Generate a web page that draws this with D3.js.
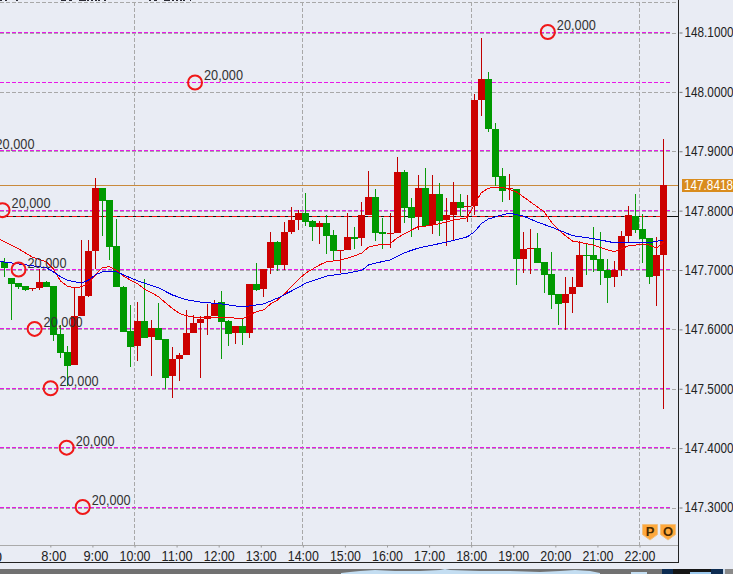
<!DOCTYPE html>
<html>
<head>
<meta charset="utf-8">
<style>
  body { margin: 0; background: #e9ecf4; overflow: hidden; }
  text { font-family: "Liberation Sans", Arial, sans-serif; }
</style>
<script src="https://d3js.org/d3.v7.min.js"></script>
</head>
<body>
<svg id="chart" width="733" height="574"></svg>
<script>
// 10 minute bars, first bar opens 6:50
const barOpen = [147.713,147.686,147.677,147.672,147.667,147.669,147.679,147.672,147.592,147.561,147.539,147.622,147.656,147.731,147.837,147.817,147.740,147.670,147.596,147.572,147.613,147.587,147.602,147.583,147.520,147.549,147.556,147.593,147.610,147.616,147.622,147.645,147.613,147.593,147.605,147.593,147.676,147.667,147.702,147.746,147.708,147.763,147.783,147.795,147.782,147.772,147.778,147.758,147.731,147.733,147.755,147.753,147.792,147.822,147.763,147.760,147.762,147.864,147.805,147.789,147.837,147.775,147.827,147.783,147.792,147.814,147.805,147.807,147.986,148.021,147.937,147.858,147.836,147.836,147.718,147.735,147.736,147.713,147.693,147.659,147.644,147.659,147.671,147.724,147.724,147.718,147.699,147.688,147.699,147.757,147.790,147.768,147.753,147.689,147.724];
const barHigh = [147.720,147.686,147.677,147.672,147.669,147.701,147.681,147.672,147.607,147.571,147.670,147.749,147.750,147.854,147.837,147.817,147.785,147.672,147.640,147.645,147.684,147.615,147.643,147.583,147.569,147.560,147.631,147.623,147.621,147.642,147.648,147.663,147.615,147.605,147.616,147.676,147.711,147.701,147.764,147.748,147.780,147.805,147.800,147.829,147.783,147.782,147.792,147.767,147.733,147.795,147.772,147.814,147.866,147.836,147.787,147.795,147.890,147.868,147.821,147.859,147.871,147.859,147.846,147.821,147.847,147.827,147.826,147.996,148.090,148.033,147.947,147.871,147.861,147.836,147.764,147.768,147.762,147.713,147.730,147.659,147.688,147.688,147.748,147.743,147.772,147.763,147.718,147.714,147.765,147.807,147.827,147.793,147.753,147.755,147.920];
const barLow = [147.688,147.615,147.667,147.663,147.663,147.666,147.670,147.580,147.551,147.503,147.539,147.622,147.654,147.701,147.757,147.716,147.670,147.594,147.536,147.546,147.584,147.520,147.581,147.499,147.484,147.513,147.556,147.593,147.518,147.589,147.622,147.549,147.571,147.575,147.573,147.585,147.663,147.653,147.693,147.698,147.699,147.760,147.767,147.773,147.748,147.743,147.726,147.714,147.694,147.733,147.735,147.740,147.792,147.748,147.735,147.736,147.762,147.778,147.755,147.767,147.773,147.760,147.757,147.740,147.750,147.790,147.780,147.792,147.959,147.932,147.841,147.813,147.817,147.674,147.694,147.693,147.711,147.661,147.634,147.607,147.598,147.627,147.671,147.691,147.696,147.674,147.644,147.671,147.689,147.745,147.762,147.711,147.676,147.639,147.465];
const barClose = [147.702,147.676,147.670,147.666,147.669,147.679,147.670,147.590,147.560,147.538,147.622,147.656,147.731,147.837,147.815,147.738,147.670,147.595,147.570,147.613,147.585,147.602,147.581,147.518,147.549,147.556,147.593,147.610,147.616,147.622,147.644,147.612,147.592,147.605,147.593,147.676,147.666,147.701,147.746,147.707,147.763,147.783,147.795,147.780,147.771,147.778,147.757,147.732,147.733,147.755,147.752,147.792,147.822,147.762,147.760,147.762,147.864,147.804,147.787,147.837,147.773,147.827,147.782,147.792,147.814,147.804,147.807,147.986,148.021,147.936,147.856,147.832,147.837,147.717,147.734,147.736,147.711,147.691,147.657,147.642,147.659,147.671,147.724,147.723,147.716,147.698,147.686,147.699,147.757,147.792,147.767,147.752,147.688,147.724,147.8418];

const redBars = [-1,2,4,6,7,8,9,10,11,12,13,14,15,16,17,18,19,20,21,22,23,24,25,26,27,29,31,33,34,35,36,37,38,39,40,41,42,43,44,45,46,48,50,51,52,53,55,56,57,59,60,62,64,66,67,68,69,71,73,75,77,78,79,80,81,82,84,86,87,88,89,90,91,92,93,94];
const redValues = [147.753,147.735,147.721,147.713,147.701,147.681,147.672,147.669,147.671,147.676,147.691,147.703,147.705,147.699,147.689,147.682,147.676,147.667,147.661,147.654,147.644,147.634,147.626,147.622,147.620,147.620,147.620,147.618,147.617,147.624,147.629,147.632,147.642,147.649,147.659,147.672,147.684,147.694,147.701,147.708,147.713,147.716,147.723,147.728,147.738,147.741,147.743,147.753,147.760,147.772,147.773,147.777,147.783,147.787,147.809,147.829,147.837,147.839,147.831,147.814,147.797,147.780,147.767,147.757,147.748,147.746,147.741,147.733,147.730,147.735,147.740,147.741,147.743,147.741,147.736,147.746];
const blueBars = [-1,3,6,7,8,9,11,12,13,14,16,17,19,22,24,26,28,31,34,37,39,41,43,46,49,51,52,53,55,57,59,61,63,66,67,68,69,71,72,74,76,79,81,84,87,90,92,94];
const blueValues = [147.714,147.708,147.703,147.696,147.688,147.682,147.677,147.682,147.691,147.696,147.696,147.691,147.681,147.669,147.657,147.649,147.645,147.642,147.637,147.642,147.652,147.664,147.677,147.689,147.694,147.699,147.708,147.711,147.716,147.728,147.736,147.741,147.746,147.755,147.763,147.777,147.785,147.792,147.795,147.790,147.780,147.767,147.757,147.752,147.745,147.746,147.745,147.750];

const priceTicks = [148.1,148.0,147.9,147.8,147.7,147.6,147.5,147.4,147.3];
const hourTicks = [8,9,10,11,12,13,14,15,16,17,18,19,20,21,22];
const gridHours = [10,14,18,22];
const levelPrices = [148.1,148.015,147.9,147.8,147.7,147.6,147.5,147.4,147.3];
const lastPrice = 147.8418;
const linePrice = 147.789;

const signalBars = [-2.53,-0.24,2.04,4.33,6.61,8.9,11.19,27.2,77.5];
const signalPrices = [147.9,147.8,147.7,147.6,147.5,147.4,147.3,148.015,148.1];
const signalLabel = "20,000";

const colors = { bg: "#e9ecf4", red: "#cc0000", green: "#009900", wickRed: "#c00000", wickGreen: "#0a9a0a",
                 grid: "#a8a8a8", level: "#e818e8", orange: "#c98a3c", ink: "#222" };

const svg = d3.select("#chart");
const x = d3.scaleLinear().domain([10, 22]).range([134.5, 639.5]);
const y = d3.scaleLinear().domain([147.3, 148.1]).range([507, 32]);
const barHour = i => 10 + (i - 19) / 6;
const crisp = v => Math.round(v - 0.5) + 0.5;

// top strip, bottoms of the header text cut by the crop
const headBits = [[0,2],[5,2],[16,2],[61,5],[69,3],[79,7],[87,2],[91,2],[95,2],[98,2],[104,2],[149,2],[154,3],[164,6],[172,2],[176,2],[180,2],[183,2],[190,1]];
svg.append("g").selectAll("rect").data(headBits).join("rect")
  .attr("x", d => d[0]).attr("y", 0).attr("width", d => d[1]).attr("height", 1)
  .attr("fill", "#2a2a34");

// grid
const grid = svg.append("g").attr("stroke", colors.grid).attr("stroke-dasharray", "4,2").attr("shape-rendering", "crispEdges");
grid.selectAll(".v").data(gridHours).join("line")
  .attr("x1", d => crisp(x(d))).attr("x2", d => crisp(x(d))).attr("y1", 2).attr("y2", 545);
grid.selectAll(".h").data(priceTicks).join("line")
  .attr("x1", 0).attr("x2", 678).attr("y1", d => crisp(y(d)) + 1).attr("y2", d => crisp(y(d)) + 1);
grid.append("line").attr("x1", 0).attr("x2", 678).attr("y1", 2.5).attr("y2", 2.5);

// order levels
svg.append("g").attr("stroke", colors.level).attr("stroke-dasharray", "4,2").attr("shape-rendering", "crispEdges")
  .selectAll("line").data(levelPrices).join("line")
  .attr("x1", 0).attr("x2", 670).attr("y1", d => crisp(y(d))).attr("y2", d => crisp(y(d)));

// last price and current line
svg.append("line").attr("x1", 0).attr("x2", 679).attr("y1", crisp(y(lastPrice))).attr("y2", crisp(y(lastPrice)))
  .attr("stroke", colors.orange).attr("shape-rendering", "crispEdges");
svg.append("line").attr("x1", 0).attr("x2", 679).attr("y1", crisp(y(linePrice))).attr("y2", crisp(y(linePrice)))
  .attr("stroke", "#111").attr("shape-rendering", "crispEdges");
svg.append("line").attr("x1", 0).attr("x2", 660).attr("y1", crisp(y(linePrice))).attr("y2", crisp(y(linePrice)))
  .attr("stroke", "#f01010").attr("stroke-dasharray", "5,3").attr("shape-rendering", "crispEdges");

// candles
const bars = d3.range(barOpen.length);
const candles = svg.append("g").attr("shape-rendering", "crispEdges");
candles.selectAll(".wick").data(bars).join("line")
  .attr("x1", i => Math.round(x(barHour(i)) - 0.5) + 3.5)
  .attr("x2", i => Math.round(x(barHour(i)) - 0.5) + 3.5)
  .attr("y1", i => y(barHigh[i])).attr("y2", i => y(barLow[i]))
  .attr("stroke", i => barClose[i] >= barOpen[i] ? colors.wickRed : colors.wickGreen);
candles.selectAll(".body").data(bars).join("rect")
  .attr("x", i => Math.round(x(barHour(i)) - 0.5))
  .attr("width", 7)
  .attr("y", i => y(Math.max(barOpen[i], barClose[i])))
  .attr("height", i => Math.max(1, Math.abs(y(barOpen[i]) - y(barClose[i]))))
  .attr("fill", i => barClose[i] >= barOpen[i] ? colors.red : colors.green);

// moving averages
const maLine = (bs, vs) => d3.line().x((d, i) => x(barHour(bs[i])) + 3).y(d => y(d))(vs);
svg.append("path").attr("d", maLine(redBars, redValues)).attr("fill", "none").attr("stroke", "#f00000").attr("shape-rendering", "crispEdges");
svg.append("path").attr("d", maLine(blueBars, blueValues)).attr("fill", "none").attr("stroke", "#0000e6").attr("shape-rendering", "crispEdges");

// signals
const signals = svg.append("g");
signals.selectAll("circle").data(signalBars).join("circle")
  .attr("cx", d => x(barHour(d)) + 3).attr("cy", (d, i) => y(signalPrices[i]))
  .attr("r", 7).attr("fill", "none").attr("stroke", "#f01818").attr("stroke-width", 2);
signals.selectAll("text").data(signalBars).join("text")
  .attr("x", d => x(barHour(d)) + 12).attr("y", (d, i) => y(signalPrices[i]) - 2)
  .attr("font-size", 14).attr("fill", "#333")
  .attr("textLength", 39).attr("lengthAdjust", "spacingAndGlyphs")
  .text(signalLabel);

// frame
svg.append("line").attr("x1", 678.5).attr("x2", 678.5).attr("y1", 0).attr("y2", 563).attr("stroke", colors.ink).attr("shape-rendering", "crispEdges");
svg.append("line").attr("x1", 0).attr("x2", 679).attr("y1", 562.5).attr("y2", 562.5).attr("stroke", colors.ink).attr("shape-rendering", "crispEdges");
svg.append("line").attr("x1", 0).attr("x2", 678).attr("y1", 545.5).attr("y2", 545.5).attr("stroke", "#aaa").attr("shape-rendering", "crispEdges");

// axes
const yAxis = svg.append("g").attr("transform", "translate(679.5,0.5)")
  .call(d3.axisRight(y).tickValues(priceTicks).tickSize(3).tickPadding(2).tickFormat(d3.format(".4f")));
yAxis.select(".domain").remove();
yAxis.selectAll("line").attr("stroke", "#777");
yAxis.selectAll("text").attr("font-size", 14).attr("font-family", "Liberation Sans").attr("fill", colors.ink)
  .attr("textLength", 49).attr("lengthAdjust", "spacingAndGlyphs");

const xAxis = svg.append("g").attr("transform", "translate(0,545.5)")
  .call(d3.axisBottom(x).tickValues(hourTicks).tickSize(2).tickPadding(0).tickFormat(d => d + ":00"));
xAxis.select(".domain").remove();
xAxis.selectAll("line").attr("stroke", "#999");
xAxis.selectAll("text")
  .attr("font-size", 14).attr("font-family", "Liberation Sans").attr("fill", colors.ink)
  .attr("text-anchor", "end").attr("x", 15.5).attr("y", 6).attr("dy", "0.71em");
xAxis.selectAll("text").attr("textLength", d => d < 10 ? 25 : 31).attr("lengthAdjust", "spacingAndGlyphs");
// label cut by the left edge
svg.append("text").attr("x", 2).attr("y", 562).attr("text-anchor", "end")
  .attr("font-size", 14).attr("fill", colors.ink).text("7:00");

// last price tag
svg.append("rect").attr("x", 682).attr("y", 179).attr("width", 51).attr("height", 13).attr("fill", "#d98c1e");
svg.append("text").attr("x", 684).attr("y", 190).attr("font-size", 14).attr("fill", "#fff")
  .attr("textLength", 49).attr("lengthAdjust", "spacingAndGlyphs").text(lastPrice.toFixed(4));

// P and O badges
const badges = [["P", 642.5], ["O", 660.5]];
const badge = svg.append("g").selectAll("g").data(badges).join("g")
  .attr("transform", d => `translate(${d[1]},524.5)`);
badge.append("path").attr("d", d3.line()([[0,0],[15,0],[15,10],[7.5,15.5],[0,10]]) + "Z")
  .attr("fill", "#ffa83c").attr("stroke", "#f0c080");
badge.append("text").attr("x", 7.5).attr("y", 11.5).attr("text-anchor", "middle")
  .attr("font-size", 13).attr("font-weight", "bold").attr("fill", "#4a2a00").text(d => d[0]);

// window strip under the chart
const strip = [[0,662,"#717171"],[662,11,"#0d2c52"],[673,38,"#161616"],[711,12,"#0d2c52"],[723,2,"#c8d8e8"],[725,8,"#8a8a8a"]];
svg.append("g").selectAll("rect").data(strip).join("rect")
  .attr("x", d => d[0]).attr("y", 569).attr("width", d => d[1]).attr("height", 5).attr("fill", d => d[2]);
const ridge = [[341,573],[350,572],[360,571],[375,570],[395,571],[420,571],[440,570],[445,569],[450,570],[480,571],[510,571],[540,572],[560,571],[575,570],[590,571],[600,573],[600,574],[341,574]];
svg.append("path").attr("d", d3.line()(ridge) + "Z").attr("fill", "#c4def2");
svg.append("rect").attr("x", 631).attr("y", 572).attr("width", 16).attr("height", 2).attr("fill", "#c4def2");
svg.append("rect").attr("x", 690).attr("y", 572).attr("width", 21).attr("height", 2).attr("fill", "#9cc8ec");
</script>
</body>
</html>
